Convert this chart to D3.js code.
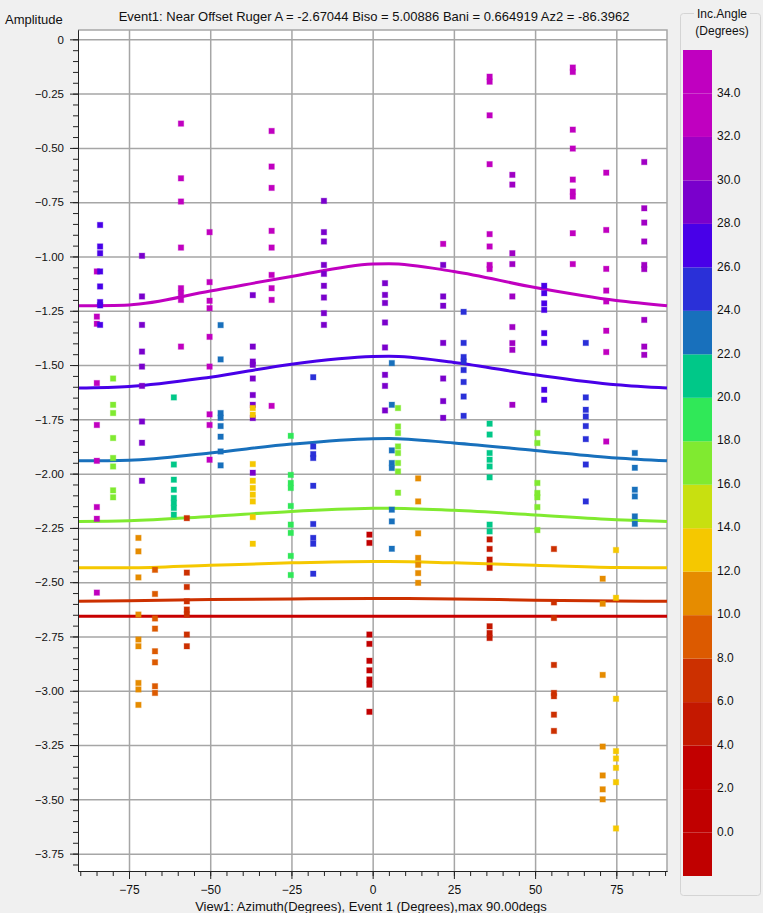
<!DOCTYPE html>
<meta charset="utf-8">
<style>
    body { margin: 0; background: #f0f0f0; }
    svg text { font-family: "Liberation Sans", Arial, sans-serif; font-size: 12px; fill: #111; }
    .grid line { stroke: #a6a6a6; stroke-width: 1.5px; }
    .grid path { display: none; }
    .axis path, .axis line { stroke: #222; }
    .fit { fill: none; stroke-width: 3px; }
</style>
<body>
<script src="https://d3js.org/d3.v7.min.js"></script>
<script>

// tick labels
var xTicks = [-75, -50, -25, 0, 25, 50, 75];
var yTicks = [0, -0.25, -0.5, -0.75, -1, -1.25, -1.5, -1.75, -2, -2.25, -2.5, -2.75, -3, -3.25, -3.5, -3.75];
var legendTicks = [0, 2, 4, 6, 8, 10, 12, 14, 16, 18, 20, 22, 24, 26, 28, 30, 32, 34];

// colour of each 2 degree band, from -2..0 up to 34..36
var bandColors = ["#c00000", "#c00000", "#c20000", "#c41800", "#cc3000", "#dc5a00", "#e68c00", "#f5c800",
    "#c8e010", "#80ea30", "#30e858", "#00c888", "#1870bc", "#2a30d8", "#4800e8", "#7a00cc", "#a000c4",
    "#c000c0", "#c000c0"];

// fitted curves (one per incidence angle)
var fitAz = [-90.7, -75, -50, -25, 0, 5, 25, 50, 75, 90.6];
var fitInc = [33, 27, 23, 17, 13, 7, 3];
var fitAmp = [
    [-1.227, -1.223, -1.159, -1.092, -1.035, -1.033, -1.069, -1.143, -1.203, -1.227],
    [-1.606, -1.599, -1.556, -1.496, -1.461, -1.460, -1.488, -1.545, -1.591, -1.606],
    [-1.941, -1.938, -1.905, -1.864, -1.839, -1.838, -1.859, -1.893, -1.928, -1.941],
    [-2.220, -2.217, -2.197, -2.174, -2.160, -2.159, -2.169, -2.190, -2.212, -2.220],
    [-2.434, -2.434, -2.422, -2.411, -2.405, -2.405, -2.411, -2.422, -2.432, -2.434],
    [-2.588, -2.585, -2.580, -2.577, -2.575, -2.575, -2.577, -2.583, -2.587, -2.588],
    [-2.657, -2.657, -2.657, -2.657, -2.657, -2.657, -2.657, -2.657, -2.657, -2.657]
];

// sample columns: azimuth, incidence angle, amplitudes
var colAz = [-84.9, -83.9, -79.9, -72.1, -71.0, -67.0, -61.2, -59.0, -57.2, -50.2, -46.8, -36.9, -36.9,
    -31.1, -25.2, -18.3, -15.0, -1.0, 3.8, 5.9, 7.8, 14.0, 21.7, 21.7, 28.0, 36.0, 36.0, 36.0, 43.0, 50.7,
    52.8, 55.8, 61.6, 65.6, 70.8, 71.9, 74.9, 80.7, 83.6];
var colInc = [33, 27, 17, 11, 29, 9, 21, 33, 7, 33, 23, 29, 13,
    33, 19, 25, 29, 3, 29, 23, 17, 11, 33, 29, 25, 33, 21, 5, 31, 17,
    27, 7, 33, 25, 11, 33, 13, 23, 31];
var colAmp = [
    [-1.069, -1.277, -1.31, -1.583, -1.776, -1.941, -2.154, -2.208, -2.548],
    [-0.855, -0.954, -0.985, -1.069, -1.138, -1.21, -1.225, -1.315],
    [-1.562, -1.683, -1.721, -1.836, -1.928, -1.967, -2.077, -2.109],
    [-2.296, -2.358, -2.478, -2.649, -2.764, -2.795, -2.964, -2.994, -3.065],
    [-0.997, -1.184, -1.315, -1.438, -1.507, -1.596, -1.76, -1.858, -2.033],
    [-2.443, -2.554, -2.667, -2.714, -2.818, -2.869, -2.979, -3.01],
    [-1.649, -1.958, -2.028, -2.074, -2.112, -2.135, -2.158, -2.189],
    [-0.388, -0.64, -0.747, -0.959, -1.146, -1.169, -1.2, -1.415],
    [-2.205, -2.456, -2.522, -2.588, -2.626, -2.649, -2.741, -2.795],
    [-0.888, -1.118, -1.204, -1.238, -1.37, -1.507, -1.727, -1.776, -1.936],
    [-1.316, -1.474, -1.721, -1.743, -1.781, -1.83, -1.898, -1.962],
    [-1.178, -1.415, -1.484, -1.499, -1.562, -1.638, -1.683, -1.744, -1.996],
    [-1.698, -1.729, -1.956, -2.033, -2.066, -2.097, -2.128, -2.2, -2.323],
    [-0.422, -0.586, -0.684, -0.882, -0.959, -1.085, -1.146, -1.2, -1.688],
    [-1.826, -2.006, -2.043, -2.066, -2.149, -2.235, -2.273, -2.379, -2.467],
    [-1.556, -1.875, -1.91, -1.928, -2.056, -2.232, -2.296, -2.323, -2.461],
    [-0.744, -0.888, -0.931, -1.039, -1.08, -1.135, -1.189, -1.261, -1.315],
    [-2.281, -2.319, -2.741, -2.784, -2.862, -2.906, -2.948, -2.972, -3.097],
    [-1.123, -1.177, -1.214, -1.304, -1.419, -1.545, -1.596, -1.709],
    [-1.491, -1.683, -1.893, -1.951, -1.974, -2.166, -2.22, -2.346],
    [-1.698, -1.783, -1.813, -1.875, -1.905, -1.951, -1.99, -2.088],
    [-2.022, -2.128, -2.275, -2.388, -2.42, -2.458, -2.503],
    [-0.942],
    [-1.039, -1.184, -1.227, -1.398, -1.562, -1.666, -1.743],
    [-1.255, -1.398, -1.463, -1.484, -1.523, -1.578, -1.645, -1.734],
    [-0.172, -0.195, -0.35, -0.575, -0.897, -0.954, -1.039, -1.058],
    [-1.77, -1.82, -1.905, -1.936, -1.967, -2.017, -2.235, -2.266],
    [-2.303, -2.347, -2.396, -2.434, -2.703, -2.734, -2.757],
    [-0.624, -0.669, -0.985, -1.035, -1.184, -1.325, -1.399, -1.43, -1.683],
    [-1.813, -1.859, -2.043, -2.089, -2.109, -2.154, -2.26],
    [-1.135, -1.169, -1.216, -1.246, -1.353, -1.398, -1.614, -1.66],
    [-2.347, -2.593, -2.665, -2.881, -3.01, -3.025, -3.11, -3.185],
    [-0.13, -0.15, -0.416, -0.503, -0.646, -0.701, -0.724, -0.893, -1.035],
    [-1.398, -1.649, -1.706, -1.737, -1.781, -1.841, -1.958, -2.128],
    [-2.484, -2.599, -2.927, -3.257, -3.39, -3.454, -3.5],
    [-0.614, -0.878, -1.057, -1.157, -1.207, -1.342, -1.44, -1.852],
    [-2.352, -2.572, -3.037, -3.278, -3.312, -3.355, -3.421, -3.634],
    [-1.905, -1.973, -2.074, -2.105, -2.197, -2.231],
    [-0.565, -0.778, -0.844, -0.931, -1.039, -1.058, -1.292, -1.415, -1.453]
];

var W = 763, H = 913;
var plot = { left: 78, right: 667, top: 30, bottom: 871 };

var x = d3.scaleLinear().domain([-90.7, 90.6]).range([plot.left, plot.right]);
var y = d3.scaleLinear().domain([-3.83, 0.043]).range([plot.bottom, plot.top]);
var color = d3.scaleThreshold().domain(legendTicks).range(bandColors);

var svg = d3.select("body").append("svg")
    .attr("width", W)
    .attr("height", H);

svg.append("rect").attr("width", W).attr("height", H).attr("fill", "#f0f0f0");

// plot background
svg.append("rect")
    .attr("x", plot.left).attr("y", plot.top)
    .attr("width", plot.right - plot.left).attr("height", plot.bottom - plot.top)
    .attr("fill", "#fff");

// grid
svg.append("g").attr("class", "grid")
    .attr("transform", "translate(0," + plot.bottom + ")")
    .call(d3.axisBottom(x).tickValues(xTicks).tickSize(-(plot.bottom - plot.top)).tickFormat(""));
svg.append("g").attr("class", "grid")
    .attr("transform", "translate(" + plot.left + ",0)")
    .call(d3.axisLeft(y).tickValues(yTicks).tickSize(-(plot.right - plot.left)).tickFormat(""));

// frame top / right
svg.append("path")
    .attr("d", "M" + plot.left + "," + plot.top + "H" + plot.right + "V" + plot.bottom)
    .attr("fill", "none").attr("stroke", "#a6a6a6").attr("stroke-width", 1.5);

// fitted curves
var line = d3.line()
    .x(function (d) { return x(d[0]); })
    .y(function (d) { return y(d[1]); })
    .curve(d3.curveMonotoneX);

fitAmp.forEach(function (amps, i) {
    svg.append("path")
        .datum(fitAz.map(function (a, j) { return [a, amps[j]]; }))
        .attr("class", "fit")
        .attr("stroke", i == 6 ? "#c80000" : color(fitInc[i]))
        .attr("d", line);
});

// samples
var samples = [];
colAz.forEach(function (az, i) {
    colAmp[i].forEach(function (a) { samples.push({ az: az, amp: a, inc: colInc[i] }); });
});

var s = 5.5;
svg.append("g").selectAll("rect")
    .data(samples)
    .enter().append("rect")
    .attr("x", function (d) { return x(d.az) - s / 2; })
    .attr("y", function (d) { return y(d.amp) - s / 2; })
    .attr("width", s).attr("height", s)
    .attr("fill", function (d) { return color(d.inc); })
    .attr("stroke", function (d) { return color(d.inc); })
    .attr("stroke-opacity", 0.3)
    .attr("stroke-width", 1);

// axes
svg.append("g").attr("class", "axis")
    .attr("transform", "translate(" + plot.left + ",0)")
    .call(d3.axisLeft(y).tickValues(d3.range(0, -3.83, -0.05)).tickSize(5).tickSizeOuter(0).tickFormat(""));
svg.append("g").attr("class", "axis")
    .attr("transform", "translate(" + plot.left + ",0)")
    .call(d3.axisLeft(y).tickValues(yTicks).tickSize(8).tickSizeOuter(0).tickPadding(6)
        .tickFormat(function (d) { return d == 0 ? "0" : d3.format(".2f")(d); }))
    .selectAll("text").style("font-size", "11.5px").attr("fill", "#111");

svg.append("g").attr("class", "axis")
    .attr("transform", "translate(0," + plot.bottom + ")")
    .call(d3.axisBottom(x).tickValues(d3.range(-90, 91, 5)).tickSize(5).tickSizeOuter(0).tickFormat(""));
svg.append("g").attr("class", "axis")
    .attr("transform", "translate(0," + plot.bottom + ")")
    .call(d3.axisBottom(x).tickValues(xTicks).tickSize(8).tickSizeOuter(0).tickPadding(6))
    .selectAll("text").style("font-size", "12px").attr("fill", "#111");

// titles
svg.append("text")
    .attr("x", 374).attr("y", 21)
    .attr("text-anchor", "middle")
    .style("font-size", "13px")
    .text("Event1: Near Offset Ruger A = -2.67044 Biso = 5.00886 Bani = 0.664919 Az2 = -86.3962");

svg.append("text")
    .attr("x", 5).attr("y", 24)
    .style("font-size", "13px")
    .text("Amplitude");

svg.append("text")
    .attr("x", 371).attr("y", 911)
    .attr("text-anchor", "middle")
    .style("font-size", "13px")
    .text("View1: Azimuth(Degrees), Event 1 (Degrees),max 90.00degs");

// legend group box
svg.append("rect")
    .attr("x", 680.5).attr("y", 13.5).attr("width", 80).attr("height", 882)
    .attr("rx", 3)
    .attr("fill", "none").attr("stroke", "#d4d4d4");
svg.append("rect")
    .attr("x", 694).attr("y", 6).attr("width", 56).attr("height", 14)
    .attr("fill", "#f0f0f0");
svg.append("text").attr("x", 722).attr("y", 18).attr("text-anchor", "middle").text("Inc.Angle");
svg.append("text").attr("x", 722).attr("y", 35).attr("text-anchor", "middle").text("(Degrees)");

// colour bar
var cy = d3.scaleLinear().domain([-2, 36]).range([876, 50]);
var bandLows = [-2].concat(legendTicks);
svg.append("g").selectAll("rect")
    .data(bandLows)
    .enter().append("rect")
    .attr("x", 683).attr("width", 29)
    .attr("y", function (d) { return cy(d + 2); })
    .attr("height", function (d) { return cy(d) - cy(d + 2); })
    .attr("fill", function (d, i) { return bandColors[i]; });

svg.append("g").selectAll("text")
    .data(legendTicks)
    .enter().append("text")
    .attr("x", 717)
    .attr("y", function (d) { return cy(d) - 1; })
    .attr("dy", "0.35em")
    .text(function (d) { return d3.format(".1f")(d); });

</script>
</body>
